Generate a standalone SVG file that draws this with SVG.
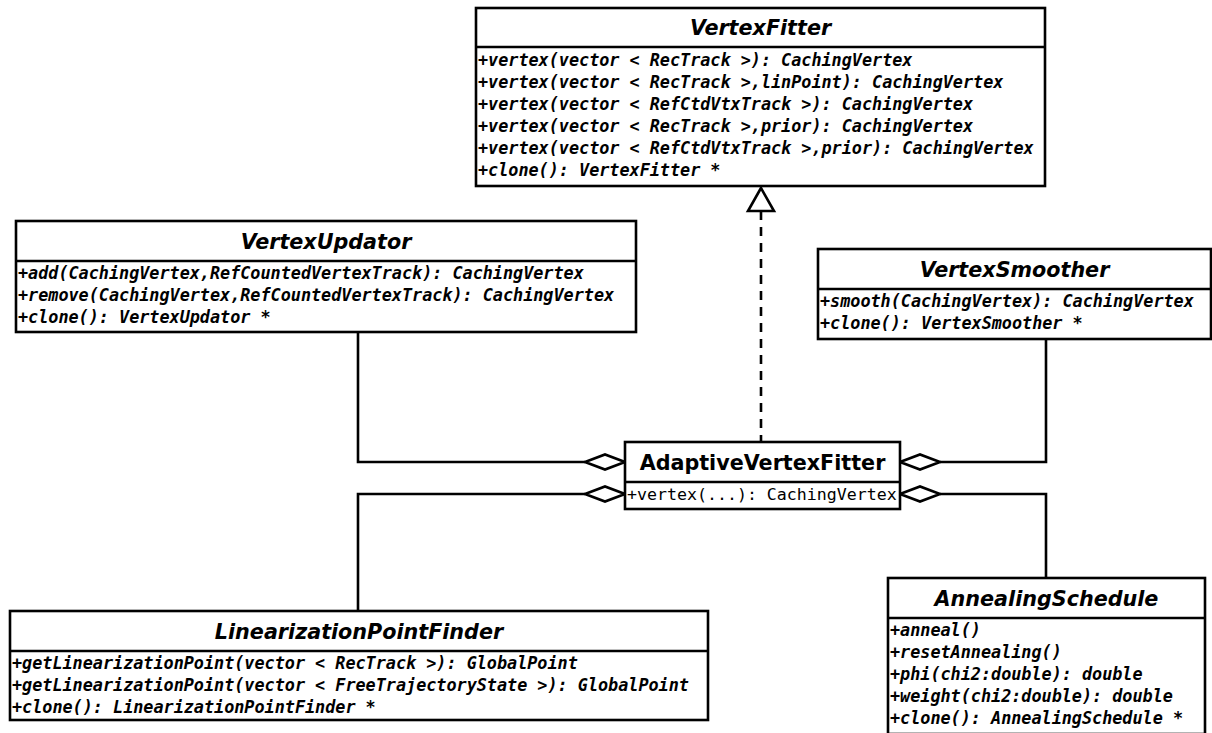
<svg xmlns="http://www.w3.org/2000/svg" width="1212" height="733" viewBox="0 0 1212 733">
<style>
.box{fill:#fff;stroke:#000;stroke-width:2.6}
.div{stroke:#000;stroke-width:2.6}
.t{font-family:"DejaVu Sans",sans-serif;font-weight:bold;font-size:20.7px;text-anchor:middle}
.ti{font-style:italic}
.m{font-family:"DejaVu Sans Mono",monospace;font-weight:bold;font-style:italic;font-size:16.8px}
.mn{font-family:"DejaVu Sans Mono",monospace;font-size:16.6px}
.c{fill:none;stroke:#000;stroke-width:2.6}
.d{fill:#fff;stroke:#000;stroke-width:2.6}
</style>
<g id="connectors">
  <line class="c" x1="761" y1="211" x2="761" y2="442" stroke-dasharray="9,7"/>
  <polygon class="d" points="761,188 748,211 774,211"/>
  <polyline class="c" points="358,332 358,462 585,462"/>
  <polygon class="d" points="625,462 605,454.5 585,462 605,469.5"/>
  <polyline class="c" points="358,611 358,494 585,494"/>
  <polygon class="d" points="625,494 605,486.5 585,494 605,501.5"/>
  <polyline class="c" points="1046,339 1046,462 940,462"/>
  <polygon class="d" points="900,462 920,454.5 940,462 920,469.5"/>
  <polyline class="c" points="1046,578 1046,494 940,494"/>
  <polygon class="d" points="900,494 920,486.5 940,494 920,501.5"/>
</g>
<g id="VertexFitter">
  <rect class="box" x="476" y="8" width="569" height="178"/>
  <line class="div" x1="476" y1="47" x2="1045" y2="47"/>
  <text class="t ti" x="760.5" y="35">VertexFitter</text>
  <text class="m" x="478" y="66">+vertex(vector &lt; RecTrack &gt;): CachingVertex</text>
  <text class="m" x="478" y="88">+vertex(vector &lt; RecTrack &gt;,linPoint): CachingVertex</text>
  <text class="m" x="478" y="110">+vertex(vector &lt; RefCtdVtxTrack &gt;): CachingVertex</text>
  <text class="m" x="478" y="132">+vertex(vector &lt; RecTrack &gt;,prior): CachingVertex</text>
  <text class="m" x="478" y="154">+vertex(vector &lt; RefCtdVtxTrack &gt;,prior): CachingVertex</text>
  <text class="m" x="478" y="176">+clone(): VertexFitter *</text>
</g>
<g id="VertexUpdator">
  <rect class="box" x="16" y="221" width="620" height="111"/>
  <line class="div" x1="16" y1="261" x2="636" y2="261"/>
  <text class="t ti" x="326" y="249">VertexUpdator</text>
  <text class="m" x="18" y="279">+add(CachingVertex,RefCountedVertexTrack): CachingVertex</text>
  <text class="m" x="18" y="301">+remove(CachingVertex,RefCountedVertexTrack): CachingVertex</text>
  <text class="m" x="18" y="323">+clone(): VertexUpdator *</text>
</g>
<g id="VertexSmoother">
  <rect class="box" x="818" y="249" width="393" height="90"/>
  <line class="div" x1="818" y1="289" x2="1211" y2="289"/>
  <text class="t ti" x="1014.5" y="277">VertexSmoother</text>
  <text class="m" x="820" y="307">+smooth(CachingVertex): CachingVertex</text>
  <text class="m" x="820" y="329">+clone(): VertexSmoother *</text>
</g>
<g id="AdaptiveVertexFitter">
  <rect class="box" x="625" y="442" width="275" height="67"/>
  <line class="div" x1="625" y1="482" x2="900" y2="482"/>
  <text class="t" x="762.5" y="470">AdaptiveVertexFitter</text>
  <text class="mn" x="627" y="500">+vertex(...): CachingVertex</text>
</g>
<g id="LinearizationPointFinder">
  <rect class="box" x="10" y="611" width="698" height="109"/>
  <line class="div" x1="10" y1="651" x2="708" y2="651"/>
  <text class="t ti" x="359" y="639">LinearizationPointFinder</text>
  <text class="m" x="12" y="669">+getLinearizationPoint(vector &lt; RecTrack &gt;): GlobalPoint</text>
  <text class="m" x="12" y="691">+getLinearizationPoint(vector &lt; FreeTrajectoryState &gt;): GlobalPoint</text>
  <text class="m" x="12" y="713">+clone(): LinearizationPointFinder *</text>
</g>
<g id="AnnealingSchedule">
  <rect class="box" x="888" y="578" width="317" height="156"/>
  <line class="div" x1="888" y1="618" x2="1205" y2="618"/>
  <text class="t ti" x="1046.5" y="606">AnnealingSchedule</text>
  <text class="m" x="890" y="636">+anneal()</text>
  <text class="m" x="890" y="658">+resetAnnealing()</text>
  <text class="m" x="890" y="680">+phi(chi2:double): double</text>
  <text class="m" x="890" y="702">+weight(chi2:double): double</text>
  <text class="m" x="890" y="724">+clone(): AnnealingSchedule *</text>
</g>
</svg>
